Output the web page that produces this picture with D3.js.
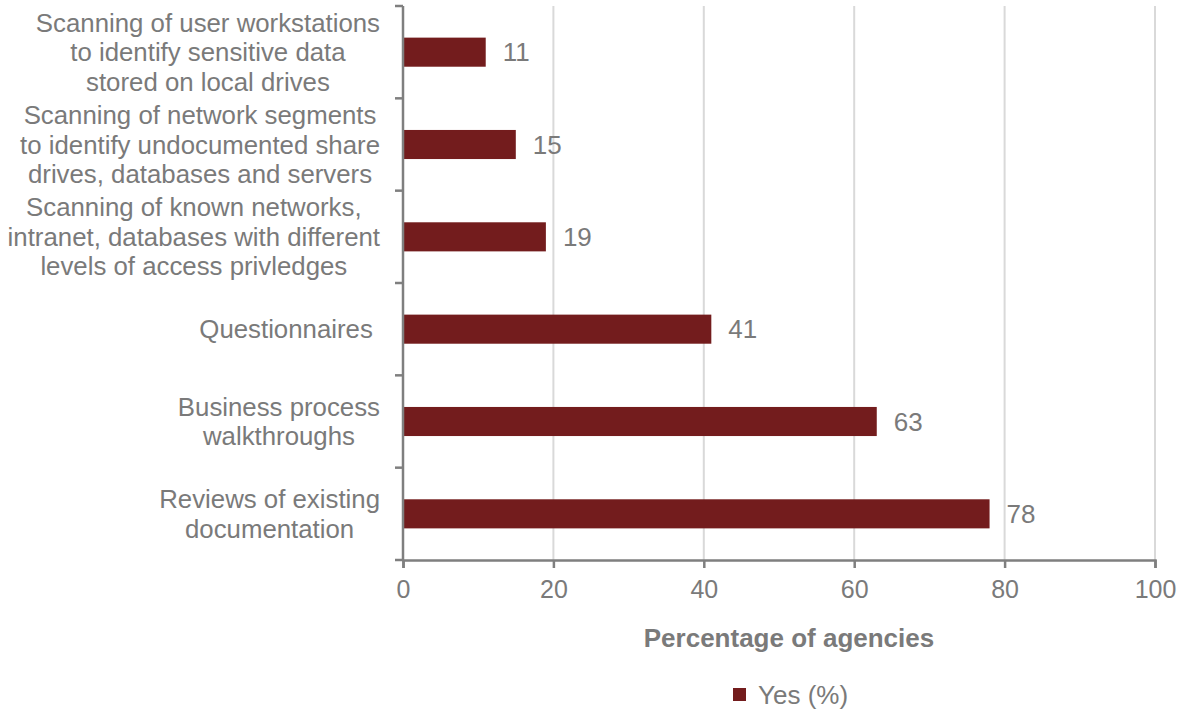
<!DOCTYPE html>
<html>
<head>
<meta charset="utf-8">
<script src="https://cdn.jsdelivr.net/npm/d3@7"></script>
<style>
  body { margin: 0; background: #fff; }
  svg text { font-family: "Liberation Sans", Arial, sans-serif; }
</style>
</head>
<body>
<svg id="chart" width="1177" height="709"></svg>
<script>
// Categories, top to bottom (each entry is the wrapped lines of the label)
const categories = [
  ["Scanning of user workstations", "to identify sensitive data", "stored on local drives"],
  ["Scanning of network segments", "to identify undocumented share", "drives, databases and servers"],
  ["Scanning of known networks,", "intranet, databases with different", "levels of access privledges"],
  ["Questionnaires "],
  ["Business process", "walkthroughs"],
  ["Reviews of existing", "documentation"]
];
const yesValues = [11, 15, 19, 41, 63, 78];
const xTicks = [0, 20, 40, 60, 80, 100];
const seriesName = "Yes (%)";
const axisTitle = "Percentage of agencies";

const BAR = "#731c1d";
const GREY = "#7f7f7f";
const TEXT = "#7a7a7a";

const margin = { top: 6, left: 403, right: 22, bottom: 149 };
const W = 1177, H = 709;
const innerW = W - margin.left - margin.right;
const innerH = H - margin.top - margin.bottom;

const svg = d3.select("#chart");
const g = svg.append("g").attr("transform", `translate(${margin.left},${margin.top})`);

const keys = categories.map((d, i) => i);
const x = d3.scaleLinear().domain([0, 100]).range([0, innerW]);
const y = d3.scaleBand().domain(keys).range([0, innerH]).paddingInner(0.685).paddingOuter(0.3425);

// gridlines
g.selectAll(".grid").data(xTicks.slice(1)).join("line")
  .attr("x1", d => x(d)).attr("x2", d => x(d))
  .attr("y1", 0).attr("y2", innerH)
  .attr("stroke", "#d9d9d9").attr("stroke-width", 2);

// bars
g.selectAll(".bar").data(yesValues).join("rect")
  .attr("x", 0)
  .attr("y", (d, i) => y(i))
  .attr("width", d => x(d))
  .attr("height", y.bandwidth())
  .attr("fill", BAR);

// value labels
g.selectAll(".val").data(yesValues).join("text")
  .attr("x", d => x(d) + 17)
  .attr("y", (d, i) => y(i) + y.bandwidth() / 2)
  .attr("dy", "0.35em")
  .attr("font-size", 26)
  .attr("fill", TEXT)
  .text(d => d);

// x axis
const xAxis = g.append("g").attr("transform", `translate(0,${innerH})`)
  .call(d3.axisBottom(x).tickValues(xTicks).tickSize(8).tickPadding(12));
xAxis.select(".domain").attr("stroke", GREY).attr("stroke-width", 2.5);
xAxis.selectAll(".tick line").attr("stroke", GREY).attr("stroke-width", 2.5);
xAxis.selectAll(".tick text").attr("font-size", 25).attr("fill", TEXT)
  .attr("font-family", "Liberation Sans, Arial, sans-serif");

// y axis: line with ticks at category boundaries
const step = innerH / categories.length;
g.append("line").attr("x1", 0).attr("x2", 0).attr("y1", 0).attr("y2", innerH)
  .attr("stroke", GREY).attr("stroke-width", 2.5);
g.selectAll(".ytick").data(d3.range(categories.length + 1)).join("line")
  .attr("x1", -8).attr("x2", 0)
  .attr("y1", d => d * step).attr("y2", d => d * step)
  .attr("stroke", GREY).attr("stroke-width", 2.5);

// category labels: each block centred on its widest line, right edge at ~-23
const lineH = 29.5;
const labels = g.selectAll(".cat").data(categories).join("text")
  .attr("font-size", 25.8)
  .attr("fill", TEXT)
  .attr("text-anchor", "middle")
  .attr("xml:space", "preserve");
labels.each(function(lines, i) {
  const t = d3.select(this);
  const cy = y(i) + y.bandwidth() / 2;
  lines.forEach((l, j) => {
    t.append("tspan")
      .attr("y", cy + (j - (lines.length - 1) / 2) * lineH)
      .attr("dy", "0.35em")
      .text(l);
  });
  let maxW = 0;
  t.selectAll("tspan").each(function() { maxW = Math.max(maxW, this.getComputedTextLength()); });
  t.selectAll("tspan").attr("x", -23 - maxW / 2);
});

// axis title
svg.append("text")
  .attr("x", 789).attr("y", 647)
  .attr("text-anchor", "middle")
  .attr("font-size", 26).attr("font-weight", "bold")
  .attr("fill", TEXT)
  .text(axisTitle);

// legend
const leg = svg.append("g").attr("transform", "translate(733,688)");
leg.append("rect").attr("width", 13).attr("height", 13).attr("fill", BAR);
leg.append("text").attr("x", 25).attr("y", 6.5).attr("dy", "0.35em")
  .attr("font-size", 26).attr("fill", TEXT).text(seriesName);
</script>
</body>
</html>
